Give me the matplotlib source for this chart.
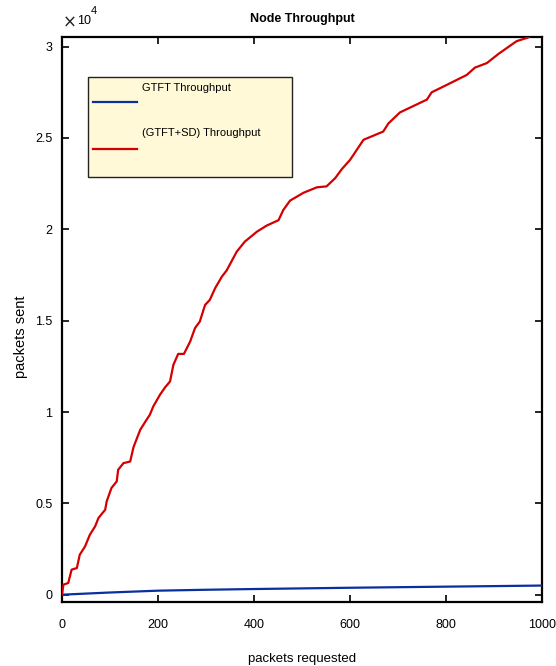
import matplotlib
matplotlib.use("Agg")
import matplotlib.pyplot as plt
from matplotlib.patches import Rectangle
from matplotlib.lines import Line2D

plt.rcParams["font.family"] = ["Liberation Sans Narrow", "Liberation Sans", "DejaVu Sans"]

# ---------------- data ----------------
# (GTFT+SD) throughput, traced points (packets requested -> packets sent)
sd_x = [0, 3, 13, 20, 31, 37, 48, 58, 69, 76, 90, 93, 103, 114, 117, 128, 142, 149,
        163, 176, 183, 190, 204, 215, 225, 232, 242, 254, 267, 277, 287, 298, 308,
        319, 333, 343, 364, 381, 406, 426, 451, 461, 475, 503, 531, 551, 569, 583,
        600, 628, 669, 680, 704, 760, 770, 801, 843, 860, 885, 909, 947, 971, 1000]
sd_y = [0, 550, 640, 1370, 1460, 2190, 2640, 3280, 3740, 4200, 4650, 5100, 5840,
        6200, 6840, 7200, 7290, 8080, 9030, 9570, 9850, 10300, 10940, 11360, 11670,
        12580, 13180, 13180, 13860, 14590, 14950, 15860, 16140, 16780, 17410, 17750,
        18780, 19330, 19870, 20200, 20500, 21060, 21570, 22000, 22300, 22350, 22800,
        23300, 23800, 24900, 25350, 25800, 26400, 27100, 27500, 27900, 28450, 28850,
        29100, 29600, 30300, 30500, 31100]

# GTFT throughput
gtft_x = [0, 100, 200, 300, 400, 500, 600, 700, 800, 900, 1000]
gtft_y = [0, 120, 220, 270, 310, 345, 380, 410, 440, 470, 500]

xticks = [0, 200, 400, 600, 800, 1000]
yticks = [0, 5000, 10000, 15000, 20000, 25000, 30000]
ytick_labels = ["0", "0.5", "1", "1.5", "2", "2.5", "3"]

red = "#d40000"
blue = "#0a2f9e"

# ---------------- figure ----------------
fig = plt.figure(figsize=(5.56, 6.66), dpi=100)
ax = fig.add_axes([0.1115, 0.0961, 0.8635, 0.8476])

ax.plot(gtft_x, gtft_y, color=blue, lw=1.6, zorder=3)
ax.plot(sd_x, sd_y, color=red, lw=1.6, zorder=3)

ax.set_xlim(0, 1000)
ax.set_ylim(-400, 30500)
ax.set_xticks(xticks)
ax.set_xticklabels([str(t) for t in xticks])
ax.set_yticks(yticks)
ax.set_yticklabels(ytick_labels)
ax.tick_params(direction="in", length=5, width=1.2, labelsize=9,
               top=True, right=True, pad=7)
ax.tick_params(axis="x", pad=12)
for sp in ax.spines.values():
    sp.set_linewidth(1.6)

ax.set_xlabel("packets requested", fontsize=9.5, labelpad=16)
ax.set_ylabel("packets sent", fontsize=10.5, labelpad=4)
ax.yaxis.set_label_coords(-0.07, 0.47)
fig.text(0.543, 0.972, "Node Throughput", ha="center", va="center",
         fontsize=9, fontweight="bold")

# exponent label
fig.text(0.112, 0.966, "\u00d7", ha="left", va="center", fontsize=12,
         family=["DejaVu Sans"], color="#222222")
fig.text(0.138, 0.969, "10", ha="left", va="center", fontsize=9)
fig.text(0.163, 0.983, "4", ha="left", va="center", fontsize=8)

# legend box
ax.add_patch(Rectangle((0.055, 0.752), 0.425, 0.178, transform=ax.transAxes,
                       facecolor="#fff9d8", edgecolor="#222222", lw=1.0, zorder=4))
ax.add_line(Line2D([0.065, 0.157], [0.885, 0.885], transform=ax.transAxes,
                   color=blue, lw=1.6, zorder=5))
ax.add_line(Line2D([0.065, 0.157], [0.802, 0.802], transform=ax.transAxes,
                   color=red, lw=1.6, zorder=5))
ax.text(0.167, 0.911, "GTFT Throughput", transform=ax.transAxes, fontsize=8,
        va="center", ha="left", zorder=5)
ax.text(0.167, 0.831, "(GTFT+SD) Throughput", transform=ax.transAxes, fontsize=8,
        va="center", ha="left", zorder=5)

fig.savefig("out.png", dpi=100)
